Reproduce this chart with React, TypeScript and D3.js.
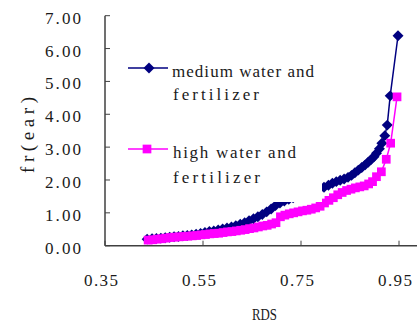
import * as d3 from 'd3';

// medium water and fertilizer
const rdsMedium = [
  0.436, 0.446, 0.455, 0.464, 0.473, 0.482, 0.491, 0.500, 0.509, 0.518,
  0.527, 0.536, 0.545, 0.554, 0.563, 0.572, 0.581, 0.590, 0.599, 0.608,
  0.617, 0.626, 0.635, 0.644, 0.653, 0.662, 0.671, 0.680, 0.689, 0.698,
  0.707, 0.716, 0.725, 0.734, 0.743, 0.752, 0.761, 0.770, 0.779, 0.788,
  0.797, 0.806, 0.814, 0.822, 0.830, 0.838, 0.846, 0.853, 0.860, 0.867,
  0.874, 0.881, 0.887, 0.893, 0.899, 0.904, 0.910, 0.915, 0.921, 0.926,
  0.932, 0.948,
];
const frMedium = [
  0.20, 0.21, 0.22, 0.23, 0.24, 0.26, 0.27, 0.28, 0.30, 0.31,
  0.33, 0.35, 0.37, 0.40, 0.43, 0.45, 0.48, 0.51, 0.54, 0.57,
  0.61, 0.65, 0.70, 0.76, 0.82, 0.88, 0.95, 1.03, 1.12, 1.22,
  1.30, 1.36, 1.41, 1.46, 1.51, 1.56, 1.61, 1.66, 1.70, 1.74,
  1.78, 1.84, 1.90, 1.95, 1.99, 2.03, 2.08, 2.14, 2.22, 2.30,
  2.38, 2.46, 2.54, 2.62, 2.71, 2.81, 2.95, 3.12, 3.35, 3.67,
  4.56, 6.39,
];

// high water and fertilizer
const rdsHigh = [
  0.438, 0.447, 0.456, 0.465, 0.474, 0.483, 0.492, 0.501, 0.510, 0.519,
  0.528, 0.537, 0.546, 0.555, 0.564, 0.573, 0.582, 0.591, 0.600, 0.609,
  0.618, 0.627, 0.636, 0.645, 0.654, 0.663, 0.672, 0.681, 0.690, 0.699,
  0.708, 0.717, 0.726, 0.735, 0.744, 0.753, 0.762, 0.771, 0.780, 0.789,
  0.798, 0.807, 0.816, 0.825, 0.834, 0.843, 0.852, 0.861, 0.870, 0.879,
  0.888, 0.896, 0.904, 0.914, 0.924, 0.933, 0.946,
];
const frHigh = [
  0.17, 0.18, 0.20, 0.21, 0.23, 0.25, 0.26, 0.27, 0.28, 0.29,
  0.30, 0.31, 0.33, 0.34, 0.36, 0.37, 0.38, 0.40, 0.42, 0.43,
  0.45, 0.47, 0.49, 0.52, 0.54, 0.57, 0.60, 0.62, 0.66, 0.70,
  0.88, 0.93, 0.97, 1.00, 1.03, 1.06, 1.08, 1.11, 1.15, 1.20,
  1.30, 1.38, 1.46, 1.55, 1.62, 1.68, 1.72, 1.76, 1.79, 1.82,
  1.88, 1.95, 2.10, 2.25, 2.63, 3.12, 4.53,
];

const xTicks = [0.35, 0.55, 0.75, 0.95];
const yTicks = [0, 1, 2, 3, 4, 5, 6, 7];

const NAVY = '#000080';
const MAGENTA = '#ff00ff';
const font = {
  fontFamily: "'Liberation Serif', 'Times New Roman', serif",
  fontSize: 17,
  fill: '#1a1a1a',
};

export default function App() {
  const width = 417;
  const height = 324;

  const x = d3.scaleLinear().domain([0.35, 1.0]).range([105, 423.5]);
  const y = d3.scaleLinear().domain([0, 7]).range([245.7, 15.7]);

  const medium = rdsMedium.map((r, i) => [r, frMedium[i]] as [number, number]);
  const high = rdsHigh.map((r, i) => [r, frHigh[i]] as [number, number]);

  const line = d3.line<[number, number]>()
    .x(d => x(d[0]))
    .y(d => y(d[1]));

  // Excel style: diamond is a square turned 45 degrees
  const diamond = d3.symbol().type(d3.symbolSquare).size(60)();
  const square = d3.symbol().type(d3.symbolSquare).size(76)();

  const [x0, x1] = [x(0.35), width];
  const yBase = y(0);

  return (
    <svg width={width} height={height} style={{ position: 'absolute', left: 0, top: 0, background: '#fff' }}>
      {/* series */}
      <path d={line(medium) || ''} fill="none" stroke={NAVY} strokeWidth={1.5} />
      {medium.map((d, i) => (
        <path key={'m' + i} d={diamond || ''} fill={NAVY}
          transform={`translate(${x(d[0])},${y(d[1])}) rotate(45)`} />
      ))}
      <path d={line(high) || ''} fill="none" stroke={MAGENTA} strokeWidth={1.5} />
      {high.map((d, i) => (
        <path key={'h' + i} d={square || ''} fill={MAGENTA}
          transform={`translate(${x(d[0])},${y(d[1])})`} />
      ))}

      {/* legend box (opaque) */}
      <rect x={118} y={50} width={204} height={152} fill="#fff" />
      <line x1={128} x2={168} y1={68} y2={68} stroke={NAVY} strokeWidth={1.5} />
      <path d={diamond || ''} fill={NAVY} transform="translate(149,68) rotate(45)" />
      <text x={172} y={77} style={font} textLength={142} lengthAdjust="spacing">medium water and</text>
      <text x={173} y={100} style={font} textLength={86} lengthAdjust="spacing">fertilizer</text>
      <line x1={128} x2={168} y1={149} y2={149} stroke={MAGENTA} strokeWidth={1.5} />
      <path d={square || ''} fill={MAGENTA} transform="translate(147,149)" />
      <text x={173} y={158} style={font} textLength={123} lengthAdjust="spacing">high water and</text>
      <text x={173} y={183} style={font} textLength={87} lengthAdjust="spacing">fertilizer</text>

      {/* axes */}
      <line x1={x0} x2={x1} y1={yBase} y2={yBase} stroke="#404040" strokeWidth={1.5} />
      <line x1={x0} x2={x0} y1={y(7)} y2={yBase} stroke="#404040" strokeWidth={1.5} />
      {yTicks.map(t => (
        <g key={'yt' + t}>
          <line x1={x0} x2={x0 + 5} y1={y(t)} y2={y(t)} stroke="#404040" strokeWidth={1} />
          <text x={45} y={y(t) + 8} style={font} textLength={36} lengthAdjust="spacing">{t.toFixed(2)}</text>
        </g>
      ))}
      {xTicks.map(t => (
        <g key={'xt' + t}>
          <line x1={x(t)} x2={x(t)} y1={yBase} y2={yBase - 5} stroke="#404040" strokeWidth={1} />
          <text x={x(t) - 21} y={285.5} style={font} textLength={34} lengthAdjust="spacing">{t.toFixed(2)}</text>
        </g>
      ))}
      <text x={252} y={320} style={font} textLength={25} lengthAdjust="spacingAndGlyphs">RDS</text>
      <text transform="translate(34,173) rotate(-90)" style={{ ...font, fontSize: 19 }}
        textLength={76} lengthAdjust="spacing">fr(ear)</text>
    </svg>
  );
}
